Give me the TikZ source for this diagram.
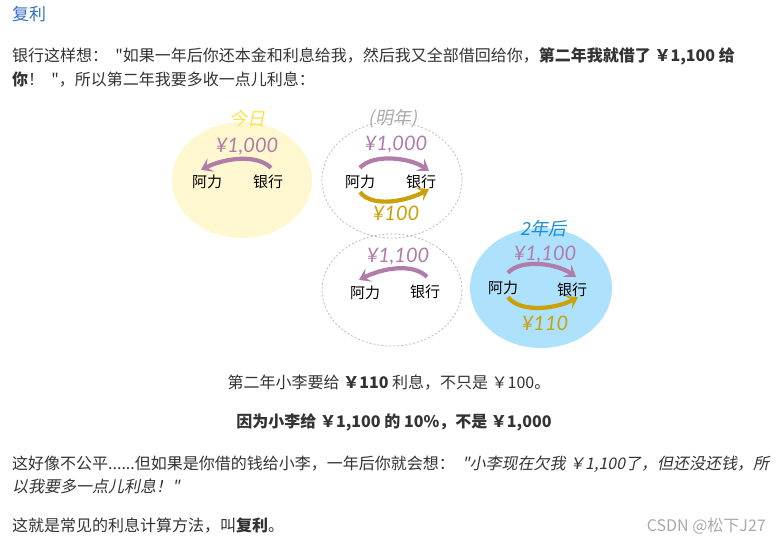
\documentclass[tikz,border=0pt]{standalone}
\usepackage{fontspec}
\setmainfont{Noto Sans CJK SC}[Ligatures=TeXOff, ItalicFont=Noto Sans CJK SC, ItalicFeatures={FakeSlant=0.2}]
\newfontfamily\amtfont{Lato}
\newfontfamily\tagfont{Noto Sans CJK SC}[FakeSlant=0.2]
\usetikzlibrary{arrows.meta, positioning}
\definecolor{bodyCol}{HTML}{333333}
\definecolor{titleCol}{HTML}{3370C4}
\definecolor{paidCol}{HTML}{B07CAA}
\definecolor{rateCol}{HTML}{C9A10A}
\definecolor{todayCol}{HTML}{FEF7CF}
\definecolor{todayTag}{HTML}{FDE34A}
\definecolor{laterCol}{HTML}{AEE2FC}
\definecolor{laterTag}{HTML}{1A8ED2}
\definecolor{ringCol}{HTML}{BBBBBB}
\definecolor{markCol}{HTML}{AAAAAA}
\tikzset{
  line/.style={anchor=base west, inner sep=0pt, text=bodyCol, font=\fontsize{16}{19}\selectfont},
  midline/.style={line, anchor=base},
  who/.style={inner sep=1pt, text=black, font=\fontsize{15}{17}\selectfont},
  amount/.style={inner sep=0pt, font=\amtfont\itshape\fontsize{20}{22}\selectfont},
  tag/.style={inner sep=0pt, font=\tagfont\fontsize{18}{20}\selectfont},
  ring/.style={draw=ringCol, line width=0.8pt, dash pattern=on 2pt off 2pt},
  paid/.style={draw=paidCol, line width=4.2pt,
    -{Stealth[length=11pt, width=15pt, inset=5pt]}},
  rate/.style={paid, draw=rateCol}
}
\begin{document}
\begin{tikzpicture}[x=1pt, y=-1pt]
  \fill[white] (0,0) rectangle (778,543);
  \useasboundingbox (0,0) rectangle (778,543);

  % heading and first paragraph
  \node[line, text=titleCol, font=\fontsize{17}{20}\selectfont] (title) at (12,21) {复利};
  \node[line] (para1a) at (12,61) {银行这样想：\ \ "如果一年后你还本金和利息给我，然后我又全部借回给你，\textbf{第二年我就借了 ￥1,100 给}};
  \node[line] (para1b) at (12,85) {\textbf{你}！\ \ "，所以第二年我要多收一点儿利息：};

  % the four years
  \fill[todayCol] (242,180) ellipse [x radius=70, y radius=58];
  \draw[ring] (392,180) ellipse [x radius=70, y radius=58];
  \draw[ring] (392,290) ellipse [x radius=70, y radius=56];
  \fill[laterCol] (541,288) ellipse [x radius=71, y radius=60];

  \node[tag, text=todayTag] (tagToday) at (247,119) {今日};
  \node[tag, text=markCol] (tagNext) at (393,119) {(明年)};
  \node[tag, text=laterTag] (tagLater) at (543,229) {2年后};

  \node[who] (ali1) at (207,182) {阿力};
  \node[who] (bank1) at (268,182) {银行};
  \node[who] (ali2) at (360,182) {阿力};
  \node[who] (bank2) at (421,182) {银行};
  \node[who] (ali3) at (365,293) {阿力};
  \node[who] (bank3) at (425,292) {银行};
  \node[who] (ali4) at (503,288) {阿力};
  \node[who] (bank4) at (572,290) {银行};

  \node[amount, text=paidCol] (loan1) at (247,147) {¥1,000};
  \node[amount, text=paidCol] (back2) at (396,145) {¥1,000};
  \node[amount, text=rateCol] (rate2) at (396,213) {¥100};
  \node[amount, text=paidCol] (loan3) at (398,257) {¥1,100};
  \node[amount, text=paidCol] (back4) at (545,255) {¥1,100};
  \node[amount, text=rateCol] (rate4) at (545,323) {¥110};

  \draw[paid] ([shift={(3,-6)}]bank1.north) .. controls +(-14,-14) and +(24,-12) .. ([shift={(-6,-4)}]ali1.north);
  \draw[paid] ([shift={(0,-6)}]ali2.north) .. controls +(12,-14) and +(-20,-14) .. ([shift={(8,-3)}]bank2.north);
  \draw[rate] ([shift={(0,2)}]ali2.south) .. controls +(12,16) and +(-22,12) .. ([shift={(8,-1)}]bank2.south);
  \draw[paid] ([shift={(2,-7)}]bank3.north) .. controls +(-14,-14) and +(24,-12) .. ([shift={(-6,-5)}]ali3.north);
  \draw[paid] ([shift={(5,-7)}]ali4.north) .. controls +(12,-14) and +(-20,-14) .. ([shift={(4,-5)}]bank4.north);
  \draw[rate] ([shift={(5,1)}]ali4.south) .. controls +(12,16) and +(-22,12) .. ([shift={(6,-1)}]bank4.south);

  % what it adds up to
  \node[midline] (sum) at (389,388) {第二年小李要给 \textbf{￥110} 利息，不只是 ￥100。};
  \node[midline, font=\bfseries\fontsize{16}{19}\selectfont] (why) at (394,427) {因为小李给 ￥1,100 的 10\%，不是 ￥1,000};
  \node[line] (para2a) at (12,469) {这好像不公平......但如果是你借的钱给小李，一年后你就会想：\ \ \textit{"小李现在欠我 ￥1,100了，但还没还钱，所}};
  \node[line] (para2b) at (12,492) {\textit{以我要多一点儿利息！"}};
  \node[line] (para3) at (12,531) {这就是常见的利息计算方法，叫\textbf{复利}。};
  \node[line, anchor=base east, text=markCol, font=\fontsize{16}{18}\selectfont] (mark) at (766,531) {CSDN @松下J27};
\end{tikzpicture}
\end{document}
